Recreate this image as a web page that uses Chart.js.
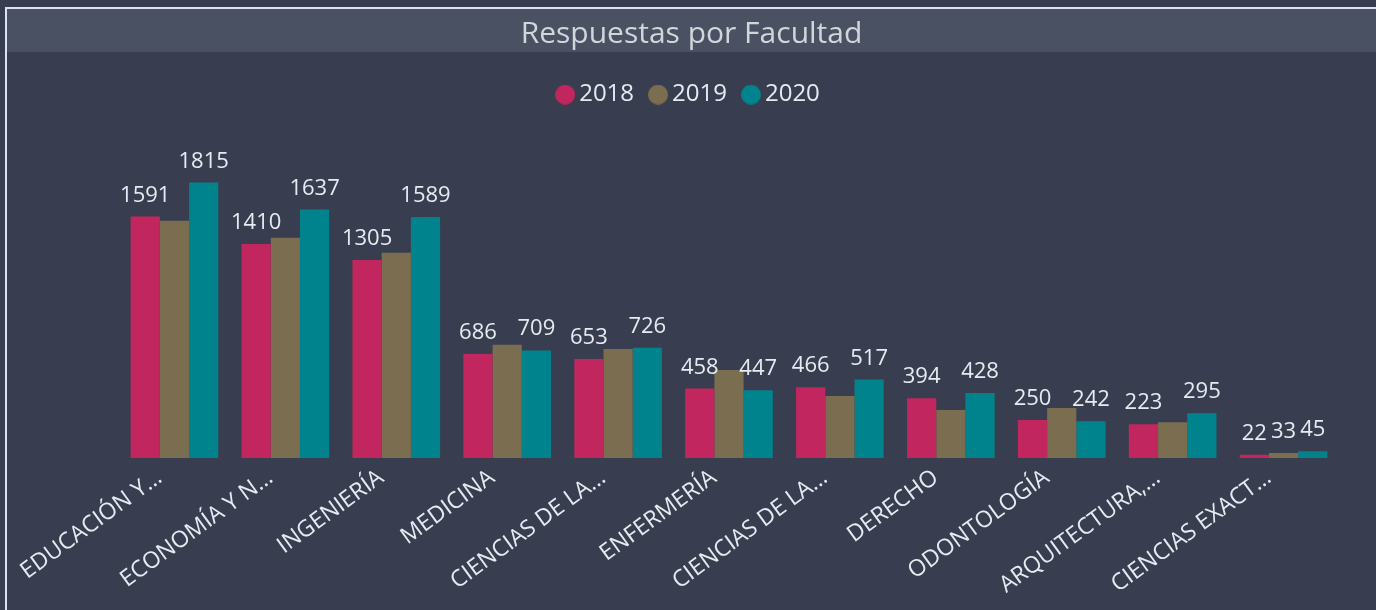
<!DOCTYPE html>
<html>
<head>
<meta charset="utf-8">
<script src="https://cdn.jsdelivr.net/npm/chart.js@4"></script>
<style>
  html, body { margin: 0; padding: 0; background: #383e4f; overflow: hidden; }
  .marco {
    position: absolute; left: 5px; top: 7px; width: 1371px; height: 603px;
    border-left: 2px solid #dde3ec; border-top: 2px solid #dde3ec;
  }
  .lienzo { position: relative; width: 1369px; height: 601px; }
</style>
</head>
<body>
<div class="marco"><div class="lienzo"><canvas id="grafico"></canvas></div></div>
<script>
const categorias = [
  'EDUCACIÓN Y…', 'ECONOMÍA Y N…', 'INGENIERÍA', 'MEDICINA', 'CIENCIAS DE LA…',
  'ENFERMERÍA', 'CIENCIAS DE LA…', 'DERECHO', 'ODONTOLOGÍA', 'ARQUITECTURA,…', 'CIENCIAS EXACT…'
];
const anios = ['2018', '2019', '2020'];
const valores2018 = [1591, 1410, 1305, 686, 653, 458, 466, 394, 250, 223, 22];
const valores2019 = [1564, 1452, 1353, 746, 718, 580, 408, 316, 329, 236, 33];
const valores2020 = [1815, 1637, 1589, 709, 726, 447, 517, 428, 242, 295, 45];
const colores = ['#c1275e', '#7b6d4f', '#00838c'];

const texto = '#e6ebf2';
const fuente = '"Open Sans", "Noto Sans", sans-serif';

function circulo(color) {
  const c = document.createElement('canvas');
  c.width = 20; c.height = 20;
  const g = c.getContext('2d');
  g.fillStyle = color;
  g.beginPath();
  g.arc(10, 10, 10, 0, Math.PI * 2);
  g.fill();
  return c;
}

// franja gris del título
const barraTitulo = {
  id: 'barraTitulo',
  beforeDraw(chart) {
    const ctx = chart.ctx;
    ctx.save();
    ctx.fillStyle = '#4a5162';
    ctx.fillRect(0, 0, chart.width, 43);
    ctx.restore();
  }
};

// etiquetas de valor; se omiten las que chocan con otra de la misma facultad
const etiquetas = {
  id: 'etiquetas',
  afterDatasetsDraw(chart) {
    const ctx = chart.ctx;
    ctx.save();
    ctx.font = '22px ' + fuente;
    ctx.fillStyle = texto;
    ctx.textAlign = 'center';
    ctx.textBaseline = 'alphabetic';
    chart.data.labels.forEach((_, j) => {
      const cajas = [];
      chart.data.datasets.forEach((ds, i) => {
        const barra = chart.getDatasetMeta(i).data[j];
        const txt = String(ds.data[j]);
        const w = ctx.measureText(txt).width;
        const y = barra.y - 15;
        const caja = { l: barra.x - w / 2, r: barra.x + w / 2, t: y - 26, b: y };
        if (cajas.some(c => caja.l < c.r && caja.r > c.l && caja.t < c.b && caja.b > c.t)) return;
        cajas.push(caja);
        ctx.fillText(txt, barra.x, y);
      });
    });
    ctx.restore();
  }
};

const ejeVacio = (ancho) => ({
  display: true,
  ticks: { display: false },
  grid: { display: false },
  border: { display: false },
  afterFit: (s) => { s.width = ancho; },
});

new Chart(document.getElementById('grafico'), {
  type: 'bar',
  data: {
    labels: categorias,
    datasets: [
      { label: anios[0], data: valores2018, backgroundColor: colores[0] },
      { label: anios[1], data: valores2019, backgroundColor: colores[1] },
      { label: anios[2], data: valores2020, backgroundColor: colores[2] },
    ],
  },
  options: {
    responsive: true,
    maintainAspectRatio: false,
    animation: false,
    categoryPercentage: 0.79,
    barPercentage: 1,
    plugins: {
      title: {
        display: true,
        text: 'Respuestas por Facultad',
        color: '#d2d5da',
        font: { family: fuente, size: 30, weight: 'normal' },
        padding: { top: 7, bottom: 8.6 },
      },
      legend: {
        display: true,
        position: 'top',
        labels: {
          usePointStyle: true,
          pointStyleWidth: 4,
          boxHeight: 14,
          padding: 22,
          color: texto,
          font: { family: fuente, size: 24 },
          generateLabels: (chart) => chart.data.datasets.map((ds, i) => ({
            text: ds.label,
            fillStyle: ds.backgroundColor,
            strokeStyle: ds.backgroundColor,
            lineWidth: 0,
            pointStyle: circulo(ds.backgroundColor),
            fontColor: texto,
            hidden: !chart.isDatasetVisible(i),
            datasetIndex: i,
          })),
        },
      },
      tooltip: { enabled: false },
    },
    scales: {
      x: {
        grid: { display: false },
        border: { display: false },
        ticks: {
          autoSkip: false,
          minRotation: 36,
          maxRotation: 36,
          labelOffset: -15,
          padding: -2,
          color: texto,
          font: { family: fuente, size: 23 },
        },
        afterFit: (s) => { s.height = 152; },
      },
      y: Object.assign(ejeVacio(112), { position: 'left', min: 0, max: 2250 }),
      derecha: Object.assign(ejeVacio(37), { type: 'linear', position: 'right' }),
    },
  },
  plugins: [barraTitulo, etiquetas],
});
</script>
</body>
</html>
